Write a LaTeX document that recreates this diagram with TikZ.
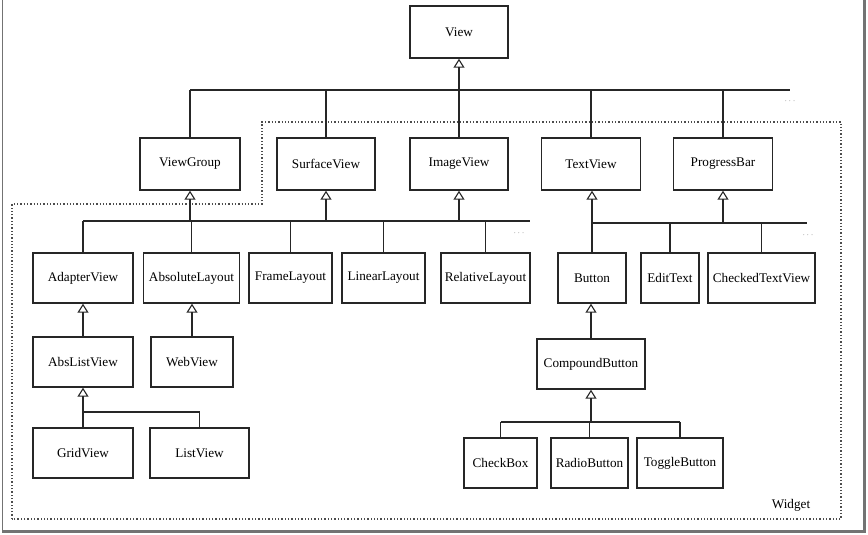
\documentclass[tikz,border=0pt]{standalone}
\usepackage{fontspec}
\setmainfont{Liberation Serif}
\usetikzlibrary{arrows.meta}
\begin{document}
\begin{tikzpicture}[x=1pt,y=-1pt,
  cls/.style={draw=black!85, line width=1.4pt, fill=white, inner sep=0pt,
    font=\fontsize{13.2}{15}\selectfont, text=black},
  ln/.style={draw=black!85, line width=1.4pt},
  inh/.style={ln, -{Triangle[open, length=9pt, width=11pt, line width=1.1pt]}},
  region/.style={draw=black!70, line width=1.3pt, dotted},
  dots/.style={font=\fontsize{9}{10}\selectfont, text=black!55},
  shadow/.style={draw=black!55}]
\useasboundingbox (0,0) rectangle (868,535);
% page frame
\draw[shadow, line width=0.6pt] (2,0) -- (2,531);
\draw[shadow, line width=3pt] (2,531.5) -- (865,531.5);
\draw[shadow, line width=3pt] (864.5,0) -- (864.5,533);
% widget region
\draw[region] (12,519) -- (12,204) -- (262,204) -- (262,122) -- (841,122) -- (841,519) -- cycle;
\node[font=\fontsize{13.2}{15}\selectfont, text=black] (widget) at (791,505) {Widget};
% nodes
\node[cls, minimum width=98pt, minimum height=52pt] (View) at (459,32) {View};
\node[cls, minimum width=100pt, minimum height=52pt] (ViewGroup) at (190,164) {ViewGroup};
\node[cls, minimum width=98pt, minimum height=52pt] (SurfaceView) at (326,164) {SurfaceView};
\node[cls, minimum width=98pt, minimum height=52pt] (ImageView) at (459,164) {ImageView};
\node[cls, minimum width=99pt, minimum height=52pt] (TextView) at (591,164) {TextView};
\node[cls, minimum width=99pt, minimum height=52pt] (ProgressBar) at (723,164) {ProgressBar};
\node[cls, minimum width=100pt, minimum height=50pt] (AdapterView) at (83,278) {AdapterView};
\node[cls, minimum width=96pt, minimum height=50pt] (AbsoluteLayout) at (191.5,278) {AbsoluteLayout};
\node[cls, minimum width=83pt, minimum height=50pt] (FrameLayout) at (290.5,278) {FrameLayout};
\node[cls, minimum width=83pt, minimum height=50pt] (LinearLayout) at (383.5,278) {LinearLayout};
\node[cls, minimum width=89pt, minimum height=50pt] (RelativeLayout) at (485.5,278) {RelativeLayout};
\node[cls, minimum width=68pt, minimum height=50pt] (Button) at (592,278) {Button};
\node[cls, minimum width=58pt, minimum height=50pt] (EditText) at (670,278) {EditText};
\node[cls, minimum width=107pt, minimum height=50pt] (CheckedTextView) at (761.5,278) {CheckedTextView};
\node[cls, minimum width=100pt, minimum height=50pt] (AbsListView) at (83,362) {AbsListView};
\node[cls, minimum width=82pt, minimum height=50pt] (WebView) at (192,362) {WebView};
\node[cls, minimum width=108pt, minimum height=50pt] (CompoundButton) at (591,364) {CompoundButton};
\node[cls, minimum width=100pt, minimum height=50pt] (GridView) at (83,453) {GridView};
\node[cls, minimum width=99pt, minimum height=50pt] (ListView) at (199.5,453) {ListView};
\node[cls, minimum width=73pt, minimum height=50pt] (CheckBox) at (500.5,463) {CheckBox};
\node[cls, minimum width=77pt, minimum height=50pt] (RadioButton) at (589.5,463) {RadioButton};
\node[cls, minimum width=86pt, minimum height=50pt] (ToggleButton) at (680,463) {ToggleButton};
% bus coordinates
\coordinate (b1L) at (190,90);  \coordinate (b1R) at (790,90);
\coordinate (b2L) at (83,221);  \coordinate (b2R) at (530,221);
\coordinate (b3L) at (592,223); \coordinate (b3R) at (807,223);
\coordinate (b4L) at (83,412);  \coordinate (b4R) at (199.5,412);
\coordinate (b5L) at (500.5,422); \coordinate (b5R) at (680,422);
\node[dots] (d1) at (790,101) {$\cdots$};
\node[dots] (d2) at (519,233) {$\cdots$};
\node[dots] (d3) at (808,235) {$\cdots$};
% bus 1
\draw[ln] (b1L) -- (b1R);
\draw[inh] (View.south |- b1L) -- (View.south);
\foreach \n in {ViewGroup,SurfaceView,ImageView,TextView,ProgressBar}
  \draw[ln] (\n.north) -- (\n.north |- b1L);
% bus 2
\draw[ln] (b2L) -- (b2R);
\foreach \n in {ViewGroup,SurfaceView,ImageView}
  \draw[inh] (\n.south |- b2L) -- (\n.south);
\foreach \n in {AdapterView,AbsoluteLayout,FrameLayout,LinearLayout,RelativeLayout}
  \draw[ln] (\n.north) -- (\n.north |- b2L);
% bus 3
\draw[ln] (b3L) -- (b3R);
\draw[inh] (Button.north) -- (Button.north |- TextView.south);
\draw[inh] (ProgressBar.south |- b3L) -- (ProgressBar.south);
\foreach \n in {EditText,CheckedTextView}
  \draw[ln] (\n.north) -- (\n.north |- b3L);
% lower levels
\draw[inh] (AbsListView.north) -- (AdapterView.south);
\draw[inh] (WebView.north) -- (AbsoluteLayout.south -| WebView.north);
\draw[inh] (CompoundButton.north) -- (CompoundButton.north |- Button.south);
% bus 4
\draw[ln] (b4L) -- (b4R);
\draw[inh] (b4L) -- (AbsListView.south);
\foreach \n in {GridView,ListView}
  \draw[ln] (\n.north) -- (\n.north |- b4L);
% bus 5
\draw[ln] (b5L) -- (b5R);
\draw[inh] (CompoundButton.south |- b5L) -- (CompoundButton.south);
\foreach \n in {CheckBox,RadioButton,ToggleButton}
  \draw[ln] (\n.north) -- (\n.north |- b5L);
\end{tikzpicture}
\end{document}
